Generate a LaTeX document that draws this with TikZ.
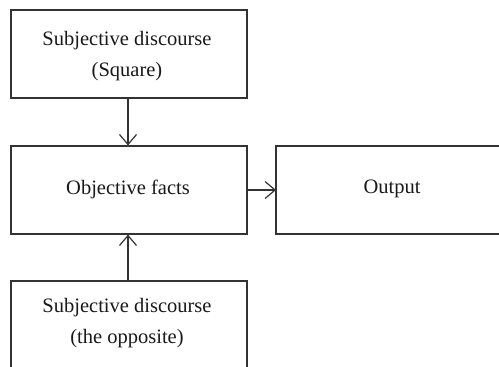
\documentclass[tikz,border=0pt]{standalone}
\usepackage{fontspec}
\setmainfont{Liberation Serif}
\usetikzlibrary{arrows.meta}
\begin{document}
\begin{tikzpicture}[x=1pt,y=-1pt,
  boxline/.style={draw=black!80,line width=1.2pt},
  lbl/.style={align=center,font=\fontsize{20.5}{31.5}\selectfont,text=black!90,inner sep=0pt},
  conn/.style={draw=black!80,line width=1.2pt,-{Straight Barb[length=10pt,width=17pt,line width=1.2pt]}}]
\useasboundingbox (0,0) rectangle (499,367);
% top box
\node[boxline,minimum width=236pt,minimum height=88pt,inner sep=0pt] (top) at (129,54) {};
\node[lbl] (toptxt) at (127,56) {Subjective discourse\\(Square)};
% middle box
\node[boxline,minimum width=236pt,minimum height=88pt,inner sep=0pt] (mid) at (129,190) {};
\node[lbl] (midtxt) at (128,189) {Objective facts};
% output box (right side open)
\coordinate (oTL) at (276,146);
\coordinate (oBL) at (276,234);
\coordinate (oTR) at (505,146);
\coordinate (oBR) at (505,234);
\draw[boxline] (oTR) -- (oTL) -- (oBL) -- (oBR);
\node[lbl] (out) at (392,189) {Output};
% bottom box (bottom open)
\coordinate (bTL) at (11,281);
\coordinate (bTR) at (247,281);
\coordinate (bBL) at (11,375);
\coordinate (bBR) at (247,375);
\draw[boxline] (bBL) -- (bTL) -- (bTR) -- (bBR);
\node[lbl] (bottxt) at (127,323) {Subjective discourse\\(the opposite)};
\coordinate (btop) at (128,281);
% connectors
\draw[conn] (top.south -| 128,0) -- (mid.north -| 128,0);
\draw[conn] (btop) -- (mid.south -| 128,0);
\draw[conn] (mid.east) -- (oTL |- mid.east);
\end{tikzpicture}
\end{document}
